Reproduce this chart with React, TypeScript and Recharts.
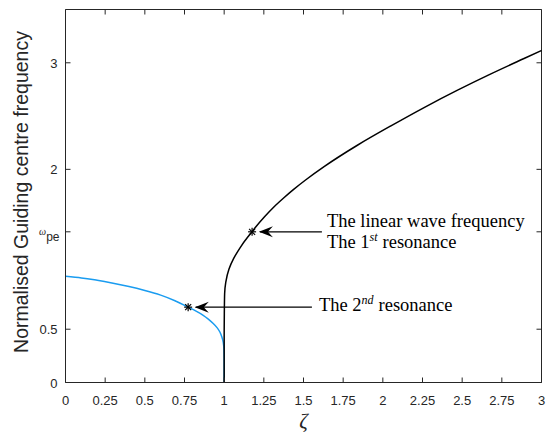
import { ComposedChart, Line, Scatter, XAxis, YAxis, ReferenceLine, ReferenceDot } from 'recharts'

const AXIS = '#262626'
const SANS = '"Liberation Sans", Arial, Helvetica, sans-serif'
const SERIF = '"Liberation Serif", "Times New Roman", serif'

// lower branch (blue), ordered by rising frequency
const blueZeta = [1.0, 1.0, 0.999, 0.994, 0.985, 0.973, 0.955, 0.931, 0.9, 0.868, 0.82, 0.773, 0.7, 0.6, 0.5, 0.4, 0.3, 0.2, 0.1, 0]
const blueFreq = [0, 0.2, 0.3, 0.38, 0.43, 0.474, 0.515, 0.553, 0.595, 0.631, 0.672, 0.707, 0.76, 0.82, 0.863, 0.9, 0.932, 0.959, 0.981, 0.996]

// upper branch (black)
const blackZeta = [1.0, 1.0, 1.001, 1.003, 1.01, 1.03, 1.06, 1.1, 1.15, 1.176, 1.2, 1.253, 1.307, 1.373, 1.438, 1.513, 1.632, 1.837, 2.051, 2.26, 2.471, 2.681, 2.89, 3.0]
const blackFreq = [0, 0.4, 0.65, 0.835, 0.94, 1.062, 1.164, 1.264, 1.367, 1.414, 1.461, 1.553, 1.638, 1.729, 1.812, 1.9, 2.028, 2.224, 2.408, 2.58, 2.743, 2.896, 3.04, 3.115]

// resonance points marked with *
const resonanceZeta = [0.773, 1.176]
const resonanceFreq = [0.707, 1.414]

const xTicks = [0, 0.25, 0.5, 0.75, 1, 1.25, 1.5, 1.75, 2, 2.25, 2.5, 2.75, 3]
const yTicks = [0, 0.5, 1.414, 2, 3]
const yTickLabels = ['0', '0.5', 'ω_pe', '2', '3']
const xMax = 3
const yMax = 3.5

const blue = blueZeta.map((x, i) => ({ x, y: blueFreq[i] }))
const black = blackZeta.map((x, i) => ({ x, y: blackFreq[i] }))
const stars = resonanceZeta.map((x, i) => ({ x, y: resonanceFreq[i] }))

const BottomTick = ({ x, y, payload }: any) => (
  <g>
    <line x1={x} x2={x} y1={y} y2={y - 5} stroke={AXIS} />
    <text x={x} y={y + 22} textAnchor="middle" fontSize={13} fill={AXIS} fontFamily={SANS}>
      {String(payload.value)}
    </text>
  </g>
)

// inward ticks on the top and right edges of the box
const TopTick = ({ cx, cy }: any) => <line x1={cx} x2={cx} y1={cy} y2={cy + 5} stroke={AXIS} />
const RightTick = ({ cx, cy }: any) => <line x1={cx} x2={cx - 5} y1={cy} y2={cy} stroke={AXIS} />

const LeftTick = ({ x, y, index }: any) => {
  const label = yTickLabels[index]
  return (
    <g>
      <line x1={x} x2={x + 5} y1={y} y2={y} stroke={AXIS} />
      {label === 'ω_pe' ? (
        <text x={x - 6} y={y} textAnchor="end" fill={AXIS} fontFamily={SANS}>
          <tspan fontSize={10} fontStyle="italic" fontFamily={SERIF} dy={3}>ω</tspan>
          <tspan fontSize={12} dy={6}>pe</tspan>
        </text>
      ) : (
        <text x={x - 8} y={y + 5} textAnchor="end" fontSize={13} fill={AXIS} fontFamily={SANS}>
          {label}
        </text>
      )}
    </g>
  )
}

const YLabel = () => (
  <text
    transform="translate(28,192) rotate(-90)"
    textAnchor="middle"
    fontSize={19.5}
    fill={AXIS}
    fontFamily={SANS}
  >
    Normalised Guiding centre frequency
  </text>
)

const XLabel = ({ viewBox }: any) => (
  <text
    x={viewBox.x + viewBox.width / 2}
    y={428}
    textAnchor="middle"
    fontSize={21}
    fontStyle="italic"
    fill={AXIS}
    fontFamily={SERIF}
  >
    ζ
  </text>
)

const Asterisk = ({ cx, cy }: any) => (
  <g stroke="#000" strokeWidth={1.2}>
    <line x1={cx - 4} x2={cx + 4} y1={cy} y2={cy} />
    <line x1={cx} x2={cx} y1={cy - 4} y2={cy + 4} />
    <line x1={cx - 3} x2={cx + 3} y1={cy - 3} y2={cy + 3} />
    <line x1={cx - 3} x2={cx + 3} y1={cy + 3} y2={cy - 3} />
  </g>
)

const ArrowHead = ({ cx, cy }: any) => (
  <path
    d={`M${cx},${cy} L${cx + 14},${cy - 5.5} L${cx + 9},${cy} L${cx + 14},${cy + 5.5} Z`}
    fill="#000"
  />
)

const FirstNote = ({ cx, cy }: any) => (
  <text x={cx + 5} y={cy - 5} fontSize={18.5} fill="#000" fontFamily={SERIF}>
    <tspan x={cx + 5}>The linear wave frequency</tspan>
    <tspan x={cx + 5} dy={21.5}>The 1</tspan>
    <tspan fontSize={12} fontStyle="italic" dy={-7}>st</tspan>
    <tspan dy={7} dx={5}>resonance</tspan>
  </text>
)

const SecondNote = ({ cx, cy }: any) => (
  <text x={cx + 7} y={cy + 4} fontSize={18.5} fill="#000" fontFamily={SERIF}>
    <tspan>The 2</tspan>
    <tspan fontSize={12} fontStyle="italic" dy={-7}>nd</tspan>
    <tspan dy={7} dx={5}>resonance</tspan>
  </text>
)

export default function App() {
  return (
    <div style={{ position: 'absolute', left: 0, top: 0, background: '#fff' }}>
      <ComposedChart width={550} height={434} margin={{ top: 9.5, right: 8.5, left: 0.5, bottom: 1.5 }}>
        <XAxis
          dataKey="x"
          type="number"
          domain={[0, xMax]}
          ticks={xTicks}
          tick={<BottomTick />}
          tickLine={false}
          tickSize={0}
          tickMargin={0}
          height={50}
          axisLine={{ stroke: AXIS }}
          label={<XLabel />}
          interval={0}
        />
        <YAxis
          type="number"
          domain={[0, yMax]}
          ticks={yTicks}
          tick={<LeftTick />}
          tickLine={false}
          tickSize={0}
          tickMargin={0}
          width={65}
          axisLine={{ stroke: AXIS }}
          interval={0}
        />
        {/* top and right edges of the box with their ticks */}
        <ReferenceLine y={yMax} stroke={AXIS} ifOverflow="visible" />
        <ReferenceLine x={xMax} stroke={AXIS} ifOverflow="visible" />
        {xTicks.map((t) => (
          <ReferenceDot key={'t' + t} x={t} y={yMax} ifOverflow="visible" shape={<TopTick />} />
        ))}
        {yTicks.map((t) => (
          <ReferenceDot key={'r' + t} x={xMax} y={t} ifOverflow="visible" shape={<RightTick />} />
        ))}
        <Line data={blue} dataKey="y" type="monotoneY" stroke="#1a9cf0" strokeWidth={1.5} dot={false} isAnimationActive={false} />
        <Line data={black} dataKey="y" type="monotoneY" stroke="#000" strokeWidth={1.5} dot={false} isAnimationActive={false} />
        <Scatter data={stars} dataKey="y" shape={<Asterisk />} isAnimationActive={false} />
        <ReferenceLine segment={[{ x: 1.616, y: 1.414 }, { x: 1.225, y: 1.414 }]} stroke="#000" strokeWidth={1.2} />
        <ReferenceDot x={1.219} y={1.414} shape={<ArrowHead />} />
        <ReferenceDot x={1.616} y={1.414} shape={<FirstNote />} />
        <ReferenceLine segment={[{ x: 1.553, y: 0.707 }, { x: 0.82, y: 0.707 }]} stroke="#000" strokeWidth={1.2} />
        <ReferenceDot x={0.815} y={0.707} shape={<ArrowHead />} />
        <ReferenceDot x={1.553} y={0.707} shape={<SecondNote />} />
        <YLabel />
      </ComposedChart>
    </div>
  )
}
